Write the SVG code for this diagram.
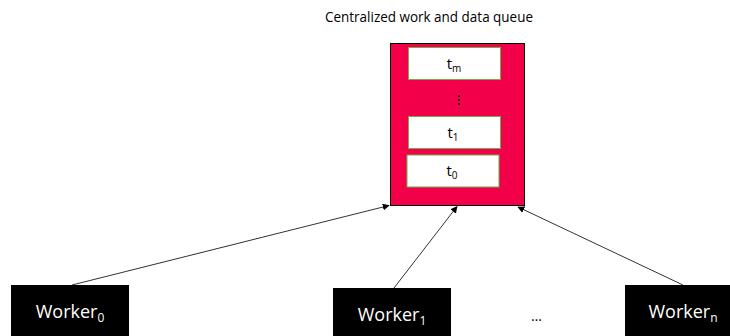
<svg xmlns="http://www.w3.org/2000/svg" width="730" height="336" viewBox="0 0 730 336">
<defs>
<style>
.title{font-family:"Open Sans","Liberation Sans",sans-serif;font-size:14px;fill:#000}
.queue{fill:#F3004A;stroke:#000;stroke-width:1}
.item{fill:#fff;stroke:#70AD47;stroke-width:1}
.itext{font-family:"Open Sans","Liberation Sans",sans-serif;font-size:15px;fill:#000;text-anchor:middle}
.isub{font-size:10px}
.worker{fill:#000}
.wtext{font-family:"Open Sans","Liberation Sans",sans-serif;font-size:18px;fill:#fff;text-anchor:middle}
.sub{font-size:12px}
.conn{stroke:#333;stroke-width:1;fill:none;marker-end:url(#arrow)}
.dots{font-family:"Open Sans","Liberation Sans",sans-serif;font-size:14px;fill:#000}
</style>
<marker id="arrow" viewBox="0 0 10 10" refX="9" refY="5" markerWidth="7" markerHeight="7" markerUnits="userSpaceOnUse" orient="auto">
<path d="M0,0 L10,5 L0,10 z" fill="#000"/>
</marker>
</defs>
<text class="title" x="325" y="22" textLength="208" lengthAdjust="spacingAndGlyphs">Centralized work and data queue</text>
<g id="queue">
<rect class="queue" x="390.5" y="43.5" width="134" height="162"/>
<g id="tm">
<rect class="item" x="408.5" y="47.5" width="92" height="32"/>
<text class="itext" x="454" y="69">t<tspan class="isub" dy="3">m</tspan></text>
</g>
<g id="vdots" fill="#000">
<circle cx="459" cy="96" r="1.1"/>
<circle cx="459" cy="100" r="1.1"/>
<circle cx="459" cy="104" r="1.1"/>
</g>
<g id="t1">
<rect class="item" x="408.5" y="116.5" width="92" height="32"/>
<text class="itext" x="453" y="138">t<tspan class="isub" dy="3">1</tspan></text>
</g>
<g id="t0">
<rect class="item" x="407" y="155" width="92" height="32"/>
<text class="itext" x="452" y="176">t<tspan class="isub" dy="3">0</tspan></text>
</g>
</g>
<g id="connectors">
<line class="conn" x1="72" y1="285" x2="389" y2="205.5"/>
<line class="conn" x1="394" y1="288" x2="457" y2="206.5"/>
<line class="conn" x1="683" y1="285" x2="518" y2="207"/>
</g>
<g id="worker0">
<rect class="worker" x="11" y="285" width="118" height="60"/>
<text class="wtext" x="70" y="318">Worker<tspan class="sub" dy="4">0</tspan></text>
</g>
<g id="worker1">
<rect class="worker" x="333" y="288" width="118" height="60"/>
<text class="wtext" x="392" y="321">Worker<tspan class="sub" dy="4">1</tspan></text>
</g>
<g id="workern">
<rect class="worker" x="625" y="285" width="118" height="60"/>
<text class="wtext" x="683" y="318">Worker<tspan class="sub" dy="4">n</tspan></text>
</g>
<text class="dots" x="531" y="321">…</text>
</svg>
